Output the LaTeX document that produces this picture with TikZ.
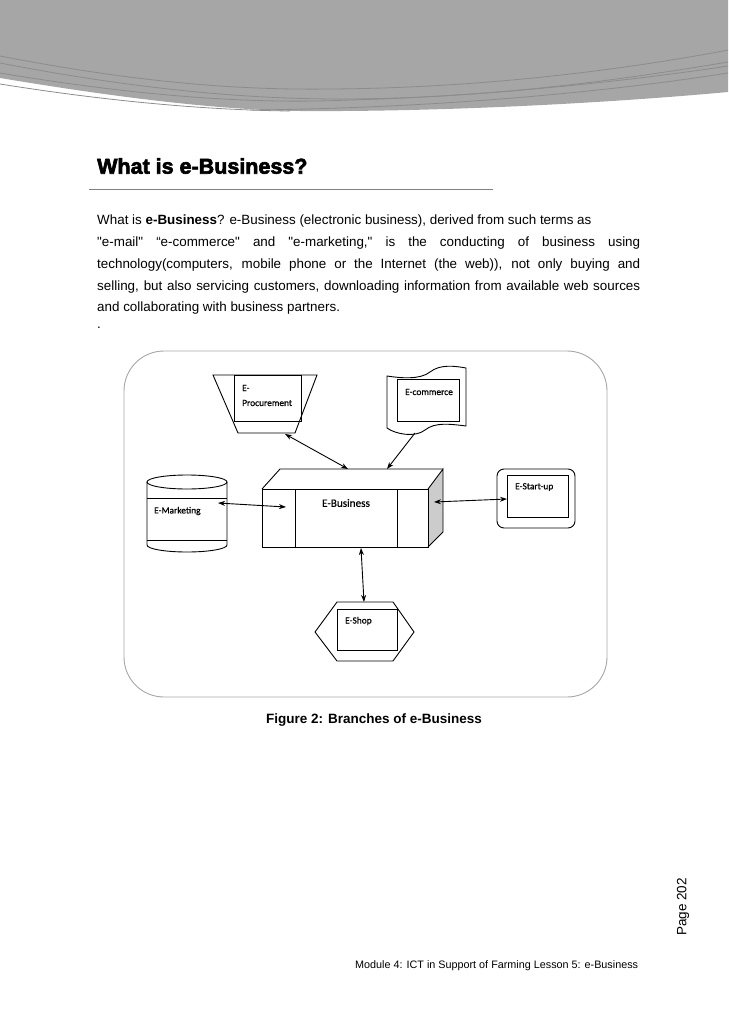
\documentclass[tikz,border=0pt]{standalone}
\usepackage{fontspec}
\setmainfont{Liberation Sans}[Ligatures=TeXOff]
\newfontfamily\calibri{Carlito}[FakeBold=0.6]
\newfontfamily\headfont{Liberation Sans}[BoldFeatures={FakeBold=3}]
\usetikzlibrary{arrows.meta, positioning, calc}

\tikzset{
    box/.style={draw, line width=0.9pt},
    lbl/.style={anchor=west, inner sep=0pt, font=\calibri\fontsize{9.4}{10}\selectfont},
    link/.style={line width=0.9pt, {Stealth[length=7pt,width=5pt]}-{Stealth[length=7pt,width=5pt]}},
    onelink/.style={line width=0.9pt, -{Stealth[length=7pt,width=5pt]}},
    bodytext/.style={anchor=west, inner sep=0pt, font=\fontsize{13.4}{16}\selectfont}
}

\begin{document}
\begin{tikzpicture}[x=1pt, y=-1pt]
    \useasboundingbox (0,0) rectangle (728,1030);

    % Page header swoosh
    \fill[gray!70] (0,0) -- (0,78) .. controls (120,98) and (220,110) .. (300,111)
        .. controls (450,112) and (620,102) .. (728,92) -- (728,0) -- cycle;
    \draw[gray!90, line width=0.8pt] (0,84) .. controls (100,100) and (200,110) .. (290,111);
    \draw[gray!90, line width=0.8pt] (0,56) .. controls (150,85) and (250,90) .. (330,89) .. controls (500,88) and (650,65) .. (728,50);
    \draw[gray!90, line width=0.8pt] (0,63) .. controls (150,92) and (260,99) .. (340,99) .. controls (500,99) and (650,75) .. (728,62);
    \draw[gray!90, line width=0.8pt] (0,73) .. controls (150,98) and (260,104) .. (350,100) .. controls (500,96) and (650,78) .. (728,66);
    \draw[gray!90, line width=0.8pt] (250,110) .. controls (450,108) and (620,90) .. (728,73);

    % Heading and rule
    \node[anchor=west, inner sep=0pt, font=\headfont\bfseries\fontsize{21.5}{24}\selectfont] (title) at (97,166) {What is e-Business?};
    \draw[gray, line width=0.8pt] (89,189) -- (493,189);

    % Body text
    \node[bodytext] (par1) at (97,221) {What is \textbf{e-Business}? e-Business (electronic business), derived from such terms as};
    \node[bodytext] (par2) at (97,243) {\makebox[543pt][s]{"e-mail" “e-commerce" and "e-marketing," is the conducting of business using}};
    \node[bodytext] (par3) at (97,265) {\makebox[543pt][s]{technology(computers, mobile phone or the Internet (the web)), not only buying and}};
    \node[bodytext] (par4) at (97,287) {\makebox[543pt][s]{selling, but also servicing customers, downloading information from available web sources}};
    \node[bodytext] (par5) at (97,308) {and collaborating with business partners.};
    \node[bodytext] (par6) at (97,328) {.};

    % Figure frame
    \draw[gray!70, line width=0.9pt, rounded corners=40pt] (124,351) rectangle (607,697);

    % E-Procurement (trapezoid)
    \draw[box] (213,375) -- (317,375) -- (295,433) -- (238,433) -- cycle;
    \draw[box] (234,375) rectangle (301,421);
    \node[lbl] (procA) at (242,388) {E-};
    \node[lbl] (procB) at (242,403) {Procurement};

    % E-commerce (punched tape)
    \draw[box] (387,376) .. controls (400,378) and (420,380) .. (430,372)
        .. controls (440,364) and (455,366) .. (466,368) -- (466,426)
        .. controls (450,424) and (435,422) .. (425,430)
        .. controls (415,438) and (395,434) .. (387,428) -- cycle;
    \draw[box] (397,379) rectangle (459,421);
    \node[lbl] (comm) at (405,392) {E-commerce};

    % E-Marketing (cylinder)
    \draw[box] (147,482) -- (147,545) arc[start angle=180, end angle=360, x radius=40, y radius=-7] -- (227,482);
    \draw[box] (187,482) ellipse[x radius=40, y radius=7];
    \draw[box] (147,498) -- (227,498);
    \draw[box] (147,540) -- (227,540);
    \node[lbl] (mark) at (154,511) {E-Marketing};

    % E-Business (box)
    \fill[gray!40] (428,489) -- (443,469) -- (443,532) -- (428,547) -- cycle;
    \draw[box] (428,489) -- (443,469) -- (443,532) -- (428,547);
    \draw[box] (262,489) -- (280,469) -- (443,469);
    \draw[box] (262,489) rectangle (428,547);
    \draw[box] (295,489) rectangle (397,547);
    \node[inner sep=0pt, font=\calibri\fontsize{11.2}{12}\selectfont] (ebiz) at (346,503) {E-Business};

    % E-Start-up
    \draw[box, rounded corners=7pt] (497,469) rectangle (575,528);
    \draw[box] (507,475) rectangle (568,517);
    \node[lbl] (start) at (515,487) {E-Start-up};

    % E-Shop (hexagon)
    \draw[box] (315,632) -- (337,602) -- (393,602) -- (414,632) -- (393,661) -- (337,661) -- cycle;
    \fill[white] (337,609) rectangle (397,650);
    \draw[box] (337,609) rectangle (397,650);
    \node[lbl] (shop) at (345,621) {E-Shop};

    % Connector ends
    \coordinate (procEnd) at (285,434);
    \coordinate (commEnd) at (415,433);
    \coordinate (markEnd) at (218,503);
    \coordinate (startEnd) at (507,499);
    \coordinate (shopEnd) at (364,602);
    \coordinate (ebizN1) at (348,469);
    \coordinate (ebizN2) at (387,469);
    \coordinate (ebizW) at (286,507);
    \coordinate (ebizE) at (434,502);
    \coordinate (ebizS) at (361,548);

    % Connectors
    \draw[link] (procEnd) -- (ebizN1);
    \draw[onelink] (commEnd) -- (ebizN2);
    \draw[link] (markEnd) -- (ebizW);
    \draw[link] (ebizE) -- (startEnd);
    \draw[link] (ebizS) -- (shopEnd);

    % Caption
    \node[inner sep=0pt, font=\bfseries\fontsize{13.5}{16}\selectfont] (caption) at (374,720) {Figure 2: Branches of e-Business};

    % Page number and footer
    \node[inner sep=0pt, rotate=90, font=\fontsize{13.5}{15}\selectfont] (page) at (683,907) {Page 202};
    \node[anchor=west, inner sep=0pt, font=\fontsize{10.8}{12}\selectfont] (footer) at (355,966) {Module 4: ICT in Support of Farming Lesson 5: e-Business};
\end{tikzpicture}
\end{document}
